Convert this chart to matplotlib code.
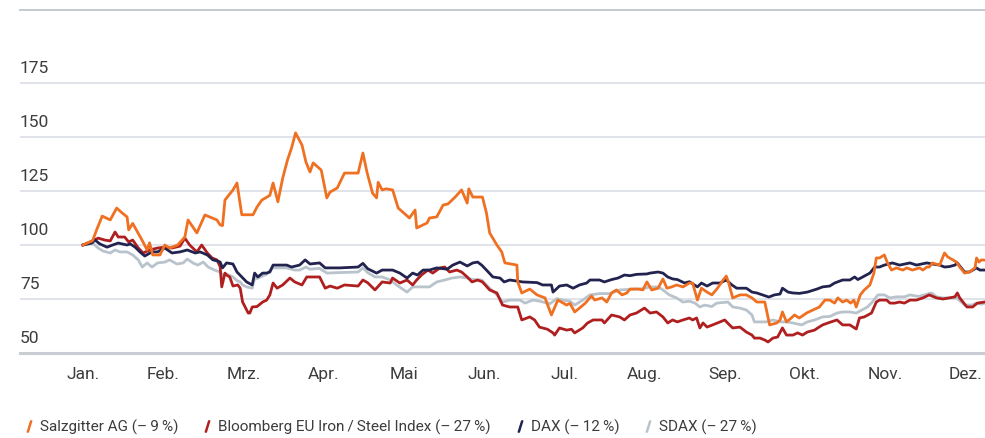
import matplotlib
matplotlib.use("Agg")
import matplotlib.pyplot as plt
from matplotlib.lines import Line2D

plt.rcParams["font.family"] = ["Roboto", "DejaVu Sans"]

# x-Werte in Monaten ab Jahresbeginn (0 = Anfang Januar), Werte indexiert (Start = 100)
months = ["Jan.", "Feb.", "Mrz.", "Apr.", "Mai", "Jun.", "Jul.", "Aug.", "Sep.", "Okt.", "Nov.", "Dez."]
y_ticks = [50, 75, 100, 125, 150, 175]

sz_x = [0.00, 0.12, 0.17, 0.24, 0.34, 0.42, 0.49, 0.55, 0.57, 0.62, 0.74, 0.80, 0.83, 0.87, 0.96, 1.02,
        1.08, 1.18, 1.27, 1.31, 1.42, 1.52, 1.58, 1.67, 1.71, 1.74, 1.77, 1.87, 1.92, 1.98, 2.12, 2.17,
        2.23, 2.33, 2.37, 2.43, 2.49, 2.55, 2.60, 2.65, 2.73, 2.78, 2.83, 2.87, 2.97, 3.04, 3.08, 3.17,
        3.26, 3.43, 3.49, 3.54, 3.61, 3.66, 3.68, 3.73, 3.78, 3.86, 3.93, 4.07, 4.14, 4.16, 4.29, 4.32,
        4.41, 4.49, 4.55, 4.64, 4.72, 4.79, 4.81, 4.86, 4.98, 5.03, 5.07, 5.16, 5.22, 5.26, 5.41, 5.42,
        5.47, 5.57, 5.66, 5.76, 5.79, 5.84, 5.92, 6.03, 6.07, 6.13, 6.19, 6.26, 6.34, 6.38, 6.47, 6.53,
        6.59, 6.65, 6.72, 6.78, 6.82, 6.92, 6.98, 7.03, 7.09, 7.17, 7.23, 7.28, 7.34, 7.40, 7.48, 7.56,
        7.60, 7.66, 7.71, 7.78, 7.84, 7.91, 7.98, 8.02, 8.05, 8.10, 8.19, 8.27, 8.34, 8.40, 8.50, 8.56,
        8.65, 8.69, 8.72, 8.77, 8.83, 8.87, 8.93, 9.02, 9.10, 9.18, 9.25, 9.31, 9.37, 9.41, 9.47, 9.52,
        9.57, 9.61, 9.64, 9.69, 9.74, 9.81, 9.86, 9.89, 9.93, 9.99, 10.03, 10.08, 10.14, 10.22, 10.27,
        10.34, 10.43, 10.47, 10.52, 10.55, 10.59, 10.68, 10.74, 10.78, 10.89, 10.93, 10.99, 11.05,
        11.12, 11.14, 11.17, 11.20, 11.24]
sz_y = [100, 102, 107, 113.4, 111.6, 117.1, 114.8, 113, 107, 110, 102, 97.7, 101, 95.4, 95.4, 100,
        98.6, 100, 103.7, 111.6, 105.6, 113.9, 113, 111.6, 109.3, 109, 120.8, 125.5, 128.7, 114, 114, 117.6,
        120.8, 123, 128.7, 120, 131, 139.4, 144.9, 151.9, 146.3, 138.4, 133.8, 138, 134.7, 121.8, 124.5, 126.4,
        133.3, 133.3, 142.6, 133.8, 124, 121.8, 129, 125.5, 126, 125.5, 117.1, 112.5, 116.2, 107.9, 110.2, 112.5,
        113, 118.5, 119, 122.2, 125.5, 119.4, 126, 122.2, 122.2, 114.8, 105.6, 100, 96.8, 91.7, 90.7, 82.9,
        77.8, 79.6, 76.9, 75.5, 72.5, 67.6, 74.5, 72.2, 73, 69, 70.8, 73, 76.4, 74.5, 75.5, 73.6,
        77.8, 79.2, 76.9, 77.8, 79.6, 79.6, 79.2, 82.9, 79.2, 80, 84.3, 80, 80.6, 81.5, 80.6, 82.4,
        82.4, 74.5, 80, 78.2, 76.9, 80, 83.8, 85.6, 82.4, 75.5, 76.9, 76.9, 75.5, 73.6, 73.6, 63,
        63.9, 65.3, 69, 64.4, 66.2, 67.6, 66.2, 68.5, 69.9, 71.3, 74.5, 74.5, 73.1, 75.5, 73.6, 74.5,
        73.1, 74.5, 71.3, 76.9, 79.2, 81.5, 87, 94, 94, 95.4, 91.7, 88.4, 89.4, 88.4, 89.4,
        88.4, 89.4, 88.4, 89.8, 89.8, 91.7, 90.7, 96.3, 94.5, 92.1, 89.8, 87, 87.5,
        89.4, 94, 92.1, 93.1, 93]

bb_x = [0.00, 0.12, 0.19, 0.27, 0.34, 0.40, 0.44, 0.52, 0.57, 0.62, 0.69, 0.75, 0.83, 0.93, 1.02, 1.11,
        1.21, 1.27, 1.33, 1.42, 1.48, 1.55, 1.61, 1.67, 1.71, 1.73, 1.77, 1.79, 1.83, 1.87, 1.93, 1.96,
        1.99, 2.06, 2.08, 2.11, 2.17, 2.24, 2.29, 2.33, 2.37, 2.42, 2.49, 2.58, 2.64, 2.73, 2.79, 2.95,
        3.02, 3.08, 3.17, 3.26, 3.43, 3.49, 3.55, 3.64, 3.73, 3.83, 3.86, 3.95, 4.04, 4.11, 4.16, 4.22,
        4.30, 4.36, 4.45, 4.51, 4.57, 4.66, 4.72, 4.79, 4.85, 4.92, 4.98, 5.07, 5.16, 5.23, 5.32, 5.42,
        5.47, 5.57, 5.63, 5.69, 5.79, 5.86, 5.88, 5.94, 6.03, 6.09, 6.13, 6.23, 6.29, 6.36, 6.47, 6.50,
        6.59, 6.69, 6.75, 6.82, 6.90, 7.00, 7.07, 7.15, 7.23, 7.29, 7.35, 7.41, 7.48, 7.56, 7.60, 7.65,
        7.69, 7.73, 7.78, 7.85, 7.91, 8.00, 8.06, 8.10, 8.19, 8.27, 8.34, 8.37, 8.44, 8.50, 8.54, 8.60,
        8.66, 8.72, 8.77, 8.85, 8.91, 8.97, 9.03, 9.12, 9.16, 9.22, 9.31, 9.40, 9.47, 9.56, 9.64, 9.68,
        9.74, 9.83, 9.89, 9.93, 10.02, 10.06, 10.12, 10.18, 10.24, 10.31, 10.39, 10.47, 10.55, 10.64,
        10.72, 10.80, 10.87, 10.90, 10.93, 11.02, 11.09, 11.15, 11.24]
bb_y = [100, 101.9, 103.2, 102.3, 101.9, 106, 103.7, 103.7, 101.4, 102.3, 98.6, 96.3, 97.7, 98.6, 99, 98.6,
        99.5, 103.2, 100, 96.8, 100, 96.3, 94, 93.1, 90, 80.6, 87, 86.1, 85.2, 81, 81.5, 80,
        73.6, 68.5, 68.5, 71.3, 71.5, 73.6, 74.5, 76.9, 82.4, 80, 81.5, 84.7, 82.9, 81.5, 85.2, 85.2,
        80, 81, 80, 81.5, 81, 83.8, 82.5, 79.2, 82.9, 82.4, 84.7, 82.4, 83.8, 81.5, 83.8, 86.1,
        88.4, 87, 89.4, 89.8, 87.5, 88.4, 87.5, 85.2, 82.9, 83.8, 82.9, 79.2, 77.8, 72.2, 71.3, 71.3,
        65.3, 66.7, 65.3, 62, 61, 59.3, 58.3, 61.6, 60.6, 61, 59.3, 61.6, 63.9, 65.3, 65.3, 63.9,
        67.6, 66.7, 65.3, 67.6, 68.5, 70.8, 68.5, 69, 66.7, 63.9, 65.3, 64.4, 65.3, 66.2, 65.3, 66.2,
        61.6, 63.9, 62, 63, 63.9, 65.3, 63, 61.6, 62, 59.7, 58.3, 56.9, 56.9, 56, 55.1, 56.9,
        57.4, 61.6, 58.3, 58.3, 59.3, 58.3, 59.7, 60.6, 61.6, 63, 64.2, 65.3, 63, 63, 61.1, 66.2,
        66.7, 68.5, 73.6, 74.5, 74.5, 73.1, 73.1, 73.6, 73.1, 74.5, 74.5, 75.5, 76.9, 75.5,
        75, 75.5, 76, 77.8, 75.5, 71.3, 71.3, 73.1, 73.6]

dax_x = [0.00, 0.11, 0.15, 0.21, 0.30, 0.37, 0.44, 0.55, 0.59, 0.65, 0.71, 0.77, 0.86, 0.93, 1.02, 1.11,
         1.21, 1.30, 1.40, 1.46, 1.55, 1.62, 1.68, 1.71, 1.74, 1.79, 1.87, 1.92, 1.98, 2.04, 2.11, 2.14,
         2.18, 2.24, 2.29, 2.33, 2.37, 2.54, 2.60, 2.70, 2.77, 2.83, 2.95, 3.02, 3.08, 3.20, 3.43, 3.49,
         3.55, 3.66, 3.73, 3.86, 3.95, 4.04, 4.11, 4.17, 4.24, 4.32, 4.41, 4.54, 4.61, 4.70, 4.79, 4.86,
         4.92, 4.97, 5.03, 5.11, 5.20, 5.25, 5.32, 5.48, 5.66, 5.73, 5.84, 5.86, 5.94, 6.03, 6.11, 6.19,
         6.28, 6.32, 6.44, 6.50, 6.59, 6.67, 6.75, 6.82, 6.90, 7.03, 7.07, 7.17, 7.23, 7.29, 7.35, 7.41,
         7.50, 7.56, 7.66, 7.71, 7.78, 7.85, 7.94, 8.02, 8.09, 8.15, 8.27, 8.34, 8.40, 8.47, 8.55, 8.62,
         8.69, 8.72, 8.79, 8.85, 8.93, 9.03, 9.15, 9.22, 9.31, 9.37, 9.47, 9.56, 9.62, 9.66, 9.72, 9.81,
         9.87, 9.93, 9.99, 10.09, 10.18, 10.31, 10.39, 10.52, 10.59, 10.68, 10.74, 10.80, 10.87, 10.90,
         10.95, 10.99, 11.05, 11.14, 11.18, 11.24]
dax_y = [100, 100.9, 102.3, 100.5, 99, 100, 100.9, 100, 100.5, 99, 96.8, 94.9, 96.8, 96.8, 98.6, 96.3,
         96.8, 97.7, 96.3, 96.8, 95.4, 93.1, 92.6, 92.1, 89.4, 91.7, 91.2, 87.5, 85.2, 82.9, 81.5, 87,
         85.2, 87, 87, 87.5, 90.7, 90.7, 89.8, 90.7, 93.1, 91.2, 91.7, 89.4, 89.4, 89.4, 89.8, 91.5,
         89, 87, 88.4, 88.4, 87, 84.7, 87, 86.1, 88.4, 88.4, 89.4, 88.8, 90.7, 92.1, 90.3, 91.7,
         92.1, 90.7, 88.4, 85.2, 84.7, 82.9, 83.8, 82.9, 82.6, 81.5, 81.5, 78.2, 81, 81.5, 80, 81.5,
         82.4, 83.8, 83.8, 82.9, 84, 84.7, 86.1, 85.8, 86.4, 86.6, 87, 87.5, 87, 85.2, 84.3, 84,
         82.4, 83, 80.6, 82.4, 81, 82.4, 82.4, 83.8, 81.5, 80, 80, 78.2, 77.8, 76.9, 75.9, 76.9,
         77.3, 80, 78.2, 77.8, 77.6, 78.2, 79.6, 80.6, 81, 82.4, 83.8, 83.8, 85.2, 84, 85.2, 87,
         89.8, 89.8, 90.7, 91.7, 90.7, 91.7, 90.7, 91.7, 91.2, 90.7, 89.8, 90, 90.7, 91.7,
         89.4, 87.5, 87.5, 89.4, 88.4, 88.4]

sdax_x = [0.00, 0.12, 0.19, 0.25, 0.34, 0.40, 0.46, 0.55, 0.62, 0.69, 0.74, 0.80, 0.86, 0.93, 1.02, 1.08,
          1.17, 1.25, 1.30, 1.37, 1.43, 1.50, 1.56, 1.64, 1.71, 1.74, 1.79, 1.87, 1.92, 1.96, 1.99, 2.04,
          2.11, 2.14, 2.17, 2.29, 2.36, 2.54, 2.64, 2.70, 2.78, 2.83, 2.95, 3.04, 3.17, 3.43, 3.49, 3.55,
          3.64, 3.73, 3.83, 3.91, 4.04, 4.11, 4.32, 4.41, 4.51, 4.60, 4.70, 4.79, 4.86, 4.97, 5.07, 5.16,
          5.23, 5.32, 5.45, 5.51, 5.61, 5.69, 5.82, 5.91, 5.98, 6.07, 6.13, 6.23, 6.32, 6.44, 6.57, 6.69,
          6.78, 6.85, 6.98, 7.07, 7.17, 7.23, 7.31, 7.40, 7.48, 7.56, 7.63, 7.69, 7.75, 7.84, 7.90, 8.04,
          8.10, 8.19, 8.27, 8.34, 8.37, 8.52, 8.60, 8.69, 8.77, 8.85, 8.96, 9.03, 9.12, 9.22, 9.31, 9.40,
          9.47, 9.56, 9.64, 9.71, 9.78, 9.84, 9.91, 9.99, 10.06, 10.14, 10.24, 10.31, 10.41, 10.49, 10.58,
          10.64, 10.72, 10.89, 10.95, 10.99, 11.08, 11.14, 11.20, 11.24]
sdax_y = [100, 100.9, 98.6, 97.2, 96.3, 97.7, 96.8, 96.8, 95.4, 93.1, 89.8, 91.7, 89.8, 91.7, 92.1, 93.1,
          91.2, 91.7, 93.5, 91.7, 90.7, 92.1, 89.8, 88.4, 87.5, 86.1, 86.6, 85.2, 83.5, 82.9, 81.5, 80.6,
          80, 84.5, 84.5, 86.5, 89.4, 89.4, 88.4, 88.4, 89.8, 88.8, 89.2, 87, 87.2, 87.5, 89.4, 87.2,
          85.2, 85.2, 83.8, 81.5, 78.2, 80.6, 80.6, 82.9, 83.8, 84.7, 85.2, 84.7, 84, 83.8, 80, 76.9,
          73.6, 74.5, 74.5, 73.1, 74.5, 74, 72.8, 75.2, 74.5, 74, 72.2, 74.5, 76.9, 77.5, 77.5, 79.2,
          79.4, 79.6, 79.8, 80.6, 80.6, 79.2, 76.9, 75.5, 73.6, 74, 73.1, 71.3, 72.2, 71.5, 73.1, 73.6,
          71.3, 70.8, 69.9, 67.6, 64.4, 64.4, 65.3, 64.4, 64.4, 63.9, 63, 64.4, 65.3, 66.7, 66.9, 68.5,
          69, 69, 68.5, 69.9, 71.3, 73.6, 76.9, 76.9, 75.5, 76, 76, 76.9, 76.2, 76.9, 77.8,
          76, 75.5, 75.5, 73.6, 72.2, 72.2, 73.1, 72.6, 73]

fig = plt.figure(figsize=(9.85, 4.38), dpi=100)
ax = fig.add_axes([20 / 985, 85 / 438, 965 / 985, 343 / 438])

text_col = "#3c3c3c"
ax.plot(sdax_x, sdax_y, color="#b9c3cc", lw=2.0, zorder=2)
ax.plot(bb_x, bb_y, color="#b01f1f", lw=2.0, zorder=3)
ax.plot(dax_x, dax_y, color="#22234f", lw=2.0, zorder=4)
ax.plot(sz_x, sz_y, color="#f07022", lw=2.0, zorder=5)

ax.set_xlim(-0.785, 11.245)
ax.set_ylim(50, 208.8)

for v in y_ticks[1:]:
    ax.axhline(v, color="#dde2e8", lw=1.3, zorder=1)
for v in y_ticks:
    ax.annotate(str(v), (0, v), xycoords=("axes fraction", "data"), xytext=(0, 5),
                textcoords="offset points", ha="left", va="bottom", fontsize=12.5, color=text_col)

ax.set_yticks([])
ax.set_xticks(range(len(months)))
ax.set_xticklabels(months, fontsize=12.5, color=text_col)
ax.tick_params(axis="x", length=0, pad=10)

for s in ["left", "right"]:
    ax.spines[s].set_visible(False)
ax.spines["top"].set_color("#c3c9d0")
ax.spines["top"].set_linewidth(1.4)
ax.spines["bottom"].set_color("#c9ced4")
ax.spines["bottom"].set_linewidth(2.2)

labels = ["Salzgitter AG (–\u20099\u2009%)", "Bloomberg EU Iron\u2009/\u2009Steel Index (–\u200927\u2009%)",
          "DAX (–\u200912\u2009%)", "SDAX (–\u200927\u2009%)"]
colors = ["#f07022", "#b01f1f", "#22234f", "#b9c3cc"]
handles = [Line2D([], [], marker="$/$", linestyle="None", color=c, markersize=8) for c in colors]
leg = fig.legend(handles, labels, loc="lower left", bbox_to_anchor=(0.008, -0.025), ncol=4,
                 frameon=False, fontsize=11, handletextpad=0.2, columnspacing=1.4,
                 handlelength=1.0, labelcolor=text_col)

fig.savefig("out.png", dpi=100)
